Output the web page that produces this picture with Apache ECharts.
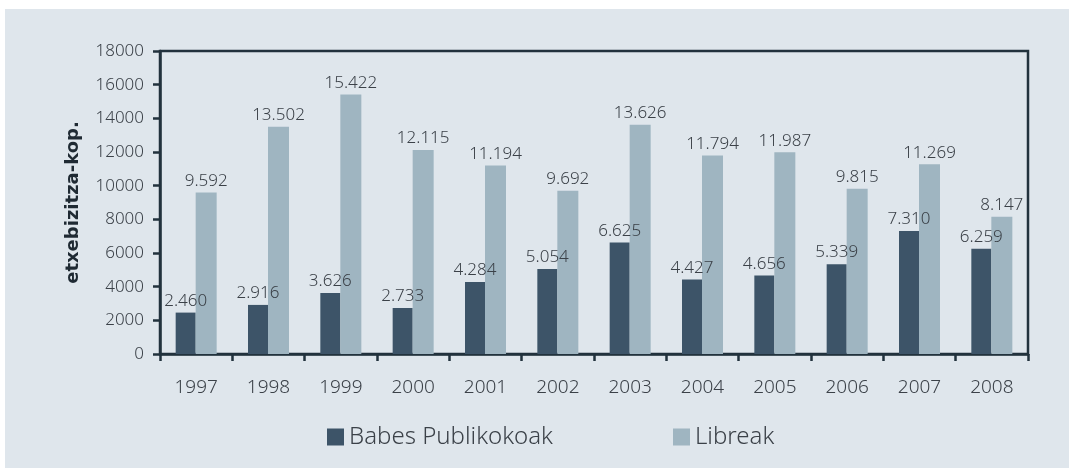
<!DOCTYPE html>
<html>
<head>
<meta charset="utf-8">
<script src="https://cdn.jsdelivr.net/npm/echarts@6/dist/echarts.min.js"></script>
<style>
  body { margin: 0; background: #ffffff; }
  #bg { position: absolute; left: 5px; top: 9px; width: 1064px; height: 459px; background: #dfe6ec; }
  #main { position: absolute; left: 0; top: 0; width: 1069px; height: 468px; }
</style>
</head>
<body>
<div id="bg"></div>
<div id="main"></div>
<script>
const years = ['1997', '1998', '1999', '2000', '2001', '2002', '2003', '2004', '2005', '2006', '2007', '2008'];
const babesPublikokoak = [2460, 2916, 3626, 2733, 4284, 5054, 6625, 4427, 4656, 5339, 7310, 6259];
const libreak = [9592, 13502, 15422, 12115, 11194, 9692, 13626, 11794, 11987, 9815, 11269, 8147];

const FONT = 'Noto Sans';
const TEXT = '#3b4148';
const AXIS = '#22323d';

// 2460 -> "2.460"
function fmt(p) {
    return (p.value / 1000).toFixed(3);
}

let chart = echarts.init(document.getElementById('main'));
let option = {
    backgroundColor: 'transparent',
    animation: false,
    grid: {
        left: 160, top: 51, right: 41, bottom: 114,
        show: true, borderColor: AXIS, borderWidth: 2.5, backgroundColor: 'transparent'
    },
    legend: [{
        left: 322, top: 420, itemWidth: 17, itemHeight: 17, itemGap: 8,
        icon: 'rect', data: ['Babes Publikokoak'],
        textStyle: {fontFamily: FONT, fontWeight: 300, fontSize: 24, color: TEXT}
    }, {
        left: 668, top: 420, itemWidth: 17, itemHeight: 17, itemGap: 8,
        icon: 'rect', data: ['Libreak'],
        textStyle: {fontFamily: FONT, fontWeight: 300, fontSize: 24, color: TEXT}
    }],
    xAxis: {
        type: 'category',
        data: years,
        axisLine: {lineStyle: {color: AXIS, width: 2.5}},
        axisTick: {show: true, length: 7, lineStyle: {color: AXIS, width: 2.5}},
        axisLabel: {fontFamily: FONT, fontWeight: 300, fontSize: 19, color: TEXT, margin: 24},
        splitLine: {show: false}
    },
    yAxis: {
        type: 'value',
        min: 0, max: 18000, interval: 2000,
        name: 'etxebizitza-kop.',
        nameLocation: 'middle',
        nameGap: 78,
        nameTextStyle: {fontFamily: 'DejaVu Sans', fontSize: 18, fontWeight: 'bold', color: '#1f2a33'},
        axisLine: {show: true, lineStyle: {color: AXIS, width: 2.5}},
        axisTick: {show: true, length: 7, lineStyle: {color: AXIS, width: 2.5}},
        axisLabel: {fontFamily: FONT, fontWeight: 300, fontSize: 17, color: TEXT, margin: 16,
            formatter: function (v) { return String(v); }},
        splitLine: {show: false}
    },
    series: [{
        name: 'Babes Publikokoak',
        type: 'bar',
        data: babesPublikokoak,
        barWidth: 20,
        barGap: '0%',
        itemStyle: {color: '#3d5468'},
        label: {show: true, position: 'top', distance: 3, formatter: fmt,
            fontFamily: FONT, fontWeight: 300, fontSize: 17, color: TEXT}
    }, {
        name: 'Libreak',
        type: 'bar',
        data: libreak,
        barWidth: 21,
        itemStyle: {color: '#9fb5c1'},
        label: {show: true, position: 'top', distance: 3, formatter: fmt,
            fontFamily: FONT, fontWeight: 300, fontSize: 17, color: TEXT}
    }]
};
chart.setOption(option);
</script>
</body>
</html>
